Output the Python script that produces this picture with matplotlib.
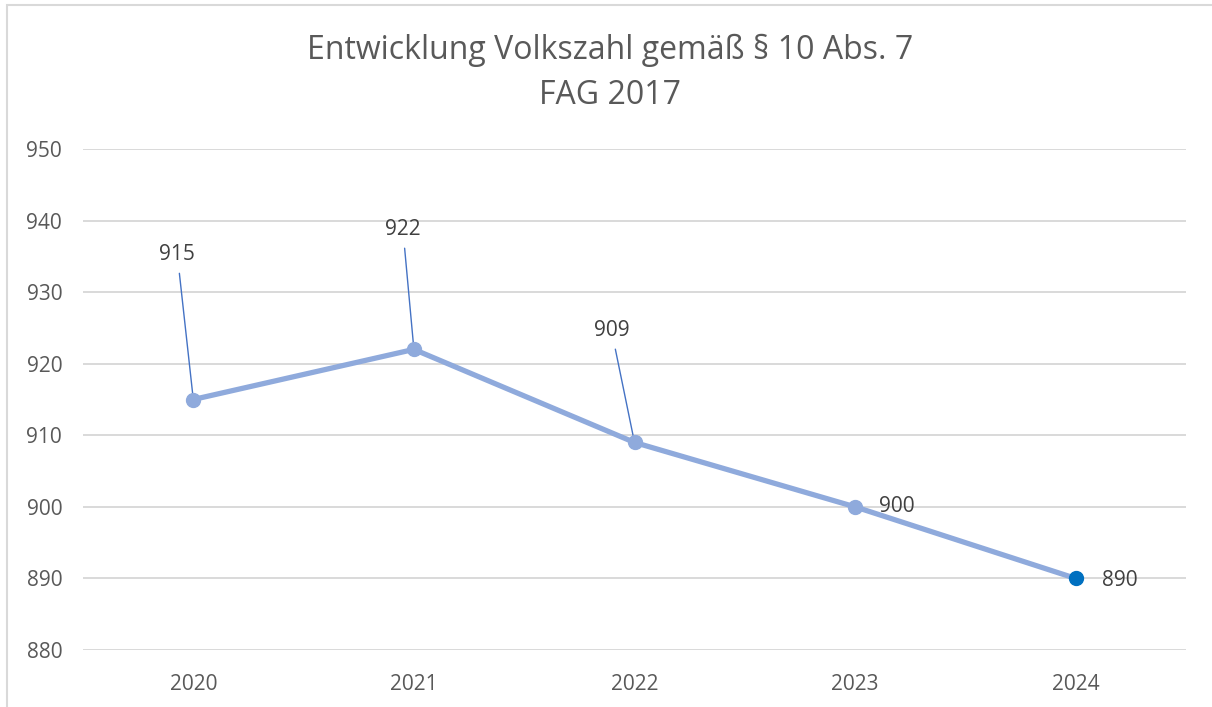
"""Entwicklung Volkszahl line chart, saved to out.png."""

import matplotlib

matplotlib.use("Agg")
import matplotlib.pyplot as plt
from matplotlib.patches import Rectangle

years = ["2020", "2021", "2022", "2023", "2024"]
values = [915, 922, 909, 900, 890]
y_ticks = [880, 890, 900, 910, 920, 930, 940, 950]
# label offsets in pixels relative to each point
label_offsets = [(-16, 145), (-11, 120), (-23, 112), (42, 0), (44, -2)]

plt.rcParams["font.family"] = ["Open Sans", "DejaVu Sans"]

fig = plt.figure(figsize=(12.12, 7.07), dpi=100)
ax = fig.add_axes([83 / 1212, 1 - 650 / 707, 1103 / 1212, 501 / 707])

# chart border (right and bottom edges fall outside the picture)
fig.patches.append(
    Rectangle((7 / 1212, -0.1), 1.2, 1 - 4.5 / 707 + 0.1,
              transform=fig.transFigure, fill=False,
              edgecolor="#D9D9D9", linewidth=1.5)
)

x = list(range(len(years)))
ax.plot(x, values, color="#8FAADC", linewidth=3.8, solid_capstyle="round", zorder=3)
ax.plot(x[:-1], values[:-1], "o", color="#8FAADC", markersize=10, zorder=4)
ax.plot(x[-1:], values[-1:], "o", color="#0070C0", markersize=10, zorder=4)

for xi, v, (dx, dy) in zip(x, values, label_offsets):
    if dy > 20:
        ax.annotate(str(v), xy=(xi, v), xytext=(dx, dy), textcoords="offset pixels",
                    ha="center", va="center", fontsize=15, color="#404040",
                    arrowprops=dict(arrowstyle="-", color="#4472C4", lw=1,
                                    shrinkA=4, shrinkB=0))
    else:
        ax.annotate(str(v), xy=(xi, v), xytext=(dx, dy), textcoords="offset pixels",
                    ha="center", va="center", fontsize=15, color="#404040")

ax.set_xlim(-0.5, len(years) - 0.5)
ax.set_ylim(880, 950)
ax.set_yticks(y_ticks)
ax.set_xticks(x)
ax.set_xticklabels(years)
ax.tick_params(axis="both", length=0, labelsize=15, colors="#595959")
ax.tick_params(axis="y", pad=15)
ax.tick_params(axis="x", pad=17)
ax.grid(axis="y", color="#D9D9D9", linewidth=1.4)
ax.set_axisbelow(True)
for spine in ax.spines.values():
    spine.set_visible(False)

fig.text(0.503, 1 - 73 / 707, "Entwicklung Volkszahl gemäß § 10 Abs. 7\nFAG 2017",
         ha="center", va="center", fontsize=23, color="#595959",
         linespacing=1.45)

fig.savefig("out.png", dpi=100)
plt.close(fig)
